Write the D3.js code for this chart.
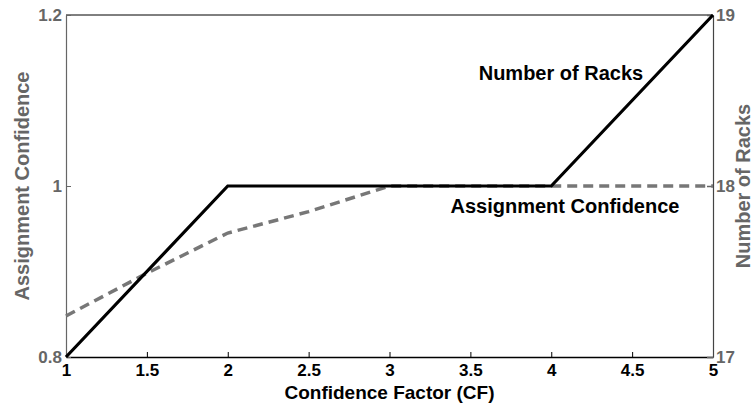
<!DOCTYPE html>
<html>
<head>
<meta charset="utf-8">
<script src="https://cdn.jsdelivr.net/npm/d3@7"></script>
<style>
  html, body { margin: 0; padding: 0; background: #fff; }
  svg { display: block; font-family: "Liberation Sans", Arial, Helvetica, sans-serif; }
</style>
</head>
<body>
<svg id="chart" width="756" height="407"></svg>
<script>
// Confidence factor sweep: assignment confidence (left axis) and racks needed (right axis)
const cfValues = [1, 1.5, 2, 2.5, 3, 3.5, 4, 4.5, 5];
const assignmentConfidence = [0.848, 0.898, 0.945, 0.970, 1.0, 1.0, 1.0, 1.0, 1.0];

const rackCf = [1, 2, 3, 4, 5];
const numberOfRacks = [17, 18, 18, 18, 19];

const xTicks = [1, 1.5, 2, 2.5, 3, 3.5, 4, 4.5, 5];
const leftTicks = [0.8, 1, 1.2];
const rightTicks = [17, 18, 19];

const svg = d3.select("#chart");
const margin = { left: 66, right: 43, top: 15, bottom: 50 };
const W = 756, H = 407;
const x0 = margin.left, x1 = W - margin.right;
const y0 = H - margin.bottom, y1 = margin.top;

const gray = "#666666";
const tickFont = 17;
const titleFont = 20;

const x = d3.scaleLinear().domain([1, 5]).range([x0, x1]);
const yL = d3.scaleLinear().domain([0.8, 1.2]).range([y0, y1]);
const yR = d3.scaleLinear().domain([17, 19]).range([y0, y1]);

// top frame line
svg.append("line").attr("x1", x0).attr("x2", x1).attr("y1", y1).attr("y2", y1)
  .attr("stroke", "#000").attr("stroke-width", 1);

// bottom axis
const xAxis = d3.axisBottom(x).tickValues(xTicks).tickSize(-5).tickSizeOuter(0)
  .tickFormat(d3.format("~g"));
const gx = svg.append("g").attr("transform", `translate(0,${y0})`).call(xAxis);
gx.select(".domain").attr("stroke", "#000").attr("stroke-width", 1.5);
gx.selectAll(".tick line").attr("stroke", "#000");
gx.selectAll(".tick text").attr("fill", "#000").attr("font-size", tickFont)
  .attr("font-weight", "bold").attr("dy", 0).attr("y", 19);

// left axis
const gl = svg.append("g").attr("transform", `translate(${x0},0)`)
  .call(d3.axisLeft(yL).tickValues(leftTicks).tickSize(-5).tickSizeOuter(0).tickFormat(d3.format("~g")));
gl.select(".domain").attr("stroke", gray).attr("stroke-width", 1.2);
gl.selectAll(".tick line").attr("stroke", gray);
gl.selectAll(".tick text").attr("fill", gray).attr("font-size", tickFont)
  .attr("font-weight", "bold").attr("x", -4);

// right axis
const gr = svg.append("g").attr("transform", `translate(${x1},0)`)
  .call(d3.axisRight(yR).tickValues(rightTicks).tickSize(-6).tickSizeOuter(0).tickFormat(d3.format("~g")));
gr.select(".domain").attr("stroke", "#444").attr("stroke-width", 1.2);
gr.selectAll(".tick line").attr("stroke", gray).attr("stroke-width", 1.5);
gr.selectAll(".tick text").attr("fill", gray).attr("font-size", tickFont)
  .attr("font-weight", "bold").attr("x", 3);

// assignment confidence (dashed gray)
const lineL = d3.line().x((d, i) => x(cfValues[i])).y(d => yL(d));
svg.append("path").datum(assignmentConfidence)
  .attr("d", lineL).attr("fill", "none").attr("stroke", "#777777")
  .attr("stroke-width", 3.5).attr("stroke-dasharray", "10,6");

// number of racks (solid black)
const lineR = d3.line().x((d, i) => x(rackCf[i])).y(d => yR(d));
svg.append("path").datum(numberOfRacks)
  .attr("d", lineR).attr("fill", "none").attr("stroke", "#000")
  .attr("stroke-width", 3.2).attr("stroke-linejoin", "miter");

// in-plot series labels
svg.append("text").attr("x", x(4.06)).attr("y", yR(18.62))
  .attr("font-size", titleFont).attr("font-weight", "bold").attr("fill", "#000")
  .attr("text-anchor", "middle").text("Number of Racks");
svg.append("text").attr("x", x(4.085)).attr("y", yL(0.968))
  .attr("font-size", titleFont).attr("font-weight", "bold").attr("fill", "#000")
  .attr("text-anchor", "middle").text("Assignment Confidence");

// axis titles
svg.append("text").attr("x", (x0 + x1) / 2).attr("y", 399)
  .attr("font-size", 19).attr("font-weight", "bold").attr("fill", "#000")
  .attr("text-anchor", "middle").text("Confidence Factor (CF)");
svg.append("text").attr("transform", `translate(29,${(y0 + y1) / 2}) rotate(-90)`)
  .attr("font-size", titleFont).attr("font-weight", "bold").attr("fill", gray)
  .attr("text-anchor", "middle").text("Assignment Confidence");
svg.append("text").attr("transform", `translate(750,${(y0 + y1) / 2}) rotate(-90)`)
  .attr("font-size", titleFont).attr("font-weight", "bold").attr("fill", gray)
  .attr("text-anchor", "middle").text("Number of Racks");
</script>
</body>
</html>
